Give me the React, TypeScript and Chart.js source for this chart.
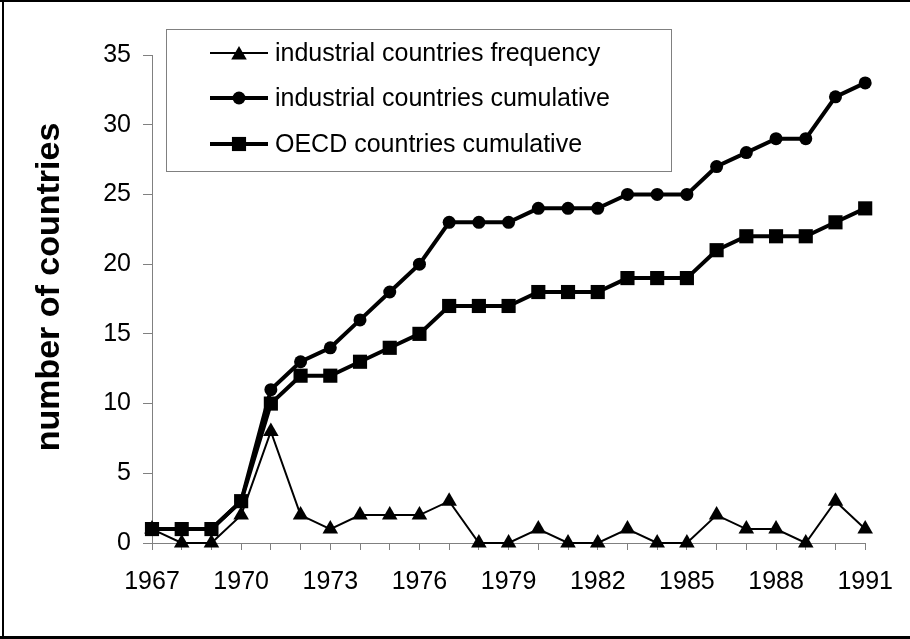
import React, { useEffect, useRef } from "react";
import { Chart, registerables } from "chart.js";

Chart.register(...registerables);

const years = [1967, 1968, 1969, 1970, 1971, 1972, 1973, 1974, 1975, 1976, 1977, 1978, 1979, 1980, 1981, 1982, 1983, 1984, 1985, 1986, 1987, 1988, 1989, 1990, 1991];
const industrialFrequency = [1, 0, 0, 2, 8, 2, 1, 2, 2, 2, 3, 0, 0, 1, 0, 0, 1, 0, 0, 2, 1, 1, 0, 3, 1];
const industrialCumulative = [1, 1, 1, 3, 11, 13, 14, 16, 18, 20, 23, 23, 23, 24, 24, 24, 25, 25, 25, 27, 28, 29, 29, 32, 33];
const oecdCumulative = [1, 1, 1, 3, 10, 12, 12, 13, 14, 15, 17, 17, 17, 18, 18, 18, 19, 19, 19, 21, 22, 22, 22, 23, 24];
const seriesLabels = ["industrial countries frequency", "industrial countries cumulative", "OECD countries cumulative"];
const yTicks = [0, 5, 10, 15, 20, 25, 30, 35];
const yTitle = "number of countries";

const FONT = '"Liberation Sans", Arial, Helvetica, sans-serif';
const AXIS_GRAY = "#808080";

function drawMarker(ctx: CanvasRenderingContext2D, style: string, x: number, y: number, r: number) {
  ctx.beginPath();
  if (style === "triangle") {
    let rad = 0;
    ctx.moveTo(x + Math.sin(rad) * r, y - Math.cos(rad) * r);
    rad += (2 * Math.PI) / 3;
    ctx.lineTo(x + Math.sin(rad) * r, y - Math.cos(rad) * r);
    rad += (2 * Math.PI) / 3;
    ctx.lineTo(x + Math.sin(rad) * r, y - Math.cos(rad) * r);
    ctx.closePath();
  } else if (style === "rect") {
    const s = Math.SQRT1_2 * r;
    ctx.rect(x - s, y - s, 2 * s, 2 * s);
  } else {
    ctx.arc(x, y, r, 0, Math.PI * 2);
  }
  ctx.fill();
}

const decorPlugin = {
  id: "decor",
  afterDraw(chart: any) {
    const ctx: CanvasRenderingContext2D = chart.ctx;
    ctx.save();
    // outer frame
    ctx.fillStyle = "#000";
    ctx.fillRect(0, 0, 910, 2);
    ctx.fillRect(2, 0, 2, 639);
    ctx.fillRect(0, 636, 910, 3);

    // y title
    ctx.save();
    ctx.translate(50, 287);
    ctx.rotate(-Math.PI / 2);
    ctx.font = `bold 34px ${FONT}`;
    ctx.textAlign = "center";
    ctx.textBaseline = "middle";
    ctx.fillStyle = "#000";
    ctx.fillText(yTitle, 0, 0);
    ctx.restore();

    // legend
    const bx = 166.5, by = 29.5, bw = 505, bh = 142;
    ctx.fillStyle = "#fff";
    ctx.fillRect(bx, by, bw, bh);
    ctx.strokeStyle = AXIS_GRAY;
    ctx.lineWidth = 1;
    ctx.strokeRect(bx, by, bw, bh);
    const rows = [53, 98, 144];
    chart.data.datasets.forEach((ds: any, i: number) => {
      const y = rows[i];
      ctx.strokeStyle = "#000";
      ctx.lineWidth = ds.borderWidth;
      ctx.beginPath();
      ctx.moveTo(210, y);
      ctx.lineTo(268, y);
      ctx.stroke();
      ctx.fillStyle = "#000";
      drawMarker(ctx, ds.pointStyle, 239, y + (ds.pointStyle === "triangle" ? 2 : 0), ds.pointRadius);
      ctx.font = `25px ${FONT}`;
      ctx.textAlign = "left";
      ctx.textBaseline = "middle";
      ctx.fillText(ds.label, 275, y + 1);
    });
    ctx.restore();
  },
};

export default function App() {
  const ref = useRef<HTMLCanvasElement>(null);
  useEffect(() => {
    if (!ref.current) return;
    const toPts = (vals: number[]) => years.map((yr, i) => ({ x: yr, y: vals[i] }));
    const chart = new Chart(ref.current, {
      type: "line",
      data: {
        datasets: [
          {
            label: seriesLabels[0],
            data: toPts(industrialFrequency),
            borderColor: "#000",
            backgroundColor: "#000",
            borderWidth: 2,
            pointStyle: "triangle",
            pointRadius: 9,
            pointBackgroundColor: "#000",
            pointBorderWidth: 0,
            tension: 0,
            clip: false,
          },
          {
            label: seriesLabels[1],
            data: toPts(industrialCumulative),
            borderColor: "#000",
            backgroundColor: "#000",
            borderWidth: 4,
            pointStyle: "circle",
            pointRadius: 6.5,
            pointBackgroundColor: "#000",
            pointBorderWidth: 0,
            tension: 0,
            clip: false,
          },
          {
            label: seriesLabels[2],
            data: toPts(oecdCumulative),
            borderColor: "#000",
            backgroundColor: "#000",
            borderWidth: 4,
            pointStyle: "rect",
            pointRadius: 10,
            pointBackgroundColor: "#000",
            pointBorderWidth: 0,
            tension: 0,
            clip: false,
          },
        ],
      },
      options: {
        responsive: false,
        animation: false,
        events: [],
        layout: { padding: { left: 0, top: 55, right: 44, bottom: 0 } },
        plugins: { legend: { display: false }, tooltip: { enabled: false }, title: { display: false } },
        scales: {
          x: {
            type: "linear",
            min: years[0],
            max: years[years.length - 1],
            afterFit: (s: any) => { s.height = 96; },
            afterBuildTicks: (s: any) => { s.ticks = years.map((v) => ({ value: v })); },
            ticks: {
              autoSkip: false,
              maxRotation: 0,
              padding: 17,
              color: "#000",
              font: { family: FONT, size: 25 },
              callback: (v: any) => ((Number(v) - years[0]) % 3 === 0 ? String(v) : ""),
            },
            grid: { drawOnChartArea: false, drawTicks: true, tickLength: 7, color: AXIS_GRAY, lineWidth: 1 },
            border: { display: true, color: AXIS_GRAY, width: 1 },
          },
          y: {
            type: "linear",
            min: 0,
            max: 35,
            afterFit: (s: any) => { s.width = 152; },
            afterBuildTicks: (s: any) => { s.ticks = yTicks.map((v) => ({ value: v })); },
            ticks: {
              padding: 12,
              color: "#000",
              font: { family: FONT, size: 25 },
              callback: (v: any) => String(v),
            },
            grid: { drawOnChartArea: false, drawTicks: true, tickLength: 9, color: AXIS_GRAY, lineWidth: 1 },
            border: { display: true, color: AXIS_GRAY, width: 1 },
          },
        },
      },
      plugins: [decorPlugin],
    } as any);
    return () => chart.destroy();
  }, []);
  return (
    <div style={{ position: "fixed", left: 0, top: 0, width: 910, height: 639, background: "#fff" }}>
      <canvas ref={ref} width={910} height={639} style={{ display: "block", width: 910, height: 639 }} />
    </div>
  );
}
